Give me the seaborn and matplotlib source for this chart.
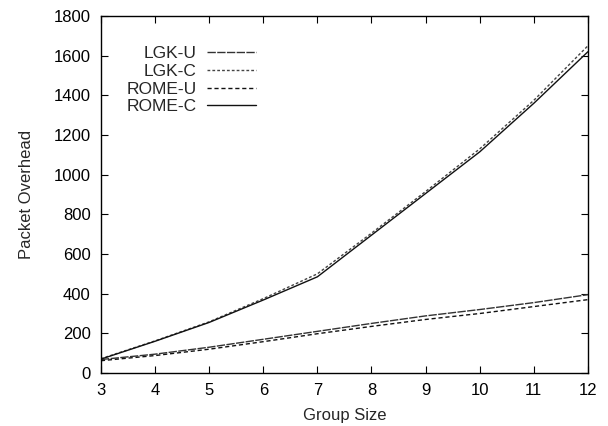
import matplotlib
matplotlib.use("Agg")
import matplotlib.pyplot as plt
import seaborn as sns
import pandas as pd

group_size = [3, 4, 5, 6, 7, 8, 9, 10, 11, 12]
lgk_u = [68, 95, 130, 170, 210, 250, 288, 320, 355, 395]
lgk_c = [72, 162, 258, 375, 500, 705, 915, 1130, 1375, 1650]
rome_u = [62, 88, 120, 158, 198, 235, 270, 300, 335, 370]
rome_c = [70, 160, 255, 368, 485, 695, 905, 1115, 1360, 1620]
series = ["LGK-U", "LGK-C", "ROME-U", "ROME-C"]

sns.set_theme(style="ticks")
plt.rcParams['font.family'] = ['Liberation Sans', 'DejaVu Sans']

rows = []
for name, vals in zip(series, [lgk_u, lgk_c, rome_u, rome_c]):
    for x, v in zip(group_size, vals):
        rows.append({"Group Size": x, "Packet Overhead": v, "Series": name})
df = pd.DataFrame(rows)

fig = plt.figure(figsize=(6.08, 4.26), dpi=100)
ax = fig.add_axes([0.166, 0.1244, 0.801, 0.838])

dashes = {"LGK-U": (6, 1), "LGK-C": (2, 1.5), "ROME-U": (3, 2), "ROME-C": ""}
palette = {"LGK-U": "#333333", "LGK-C": "#444444", "ROME-U": "#111111", "ROME-C": "#111111"}
sns.lineplot(data=df, x="Group Size", y="Packet Overhead", hue="Series", style="Series",
             hue_order=series, style_order=series, dashes=dashes, palette=palette,
             linewidth=1.0, ax=ax)

ax.set_xlim(3, 12)
ax.set_ylim(0, 1800)
ax.set_xticks(group_size)
ax.set_yticks(range(0, 1801, 200))
ax.tick_params(direction="in", top=True, right=True, labelsize=12, length=5, width=0.8,
               colors="black", pad=7.5)
for s in ax.spines.values():
    s.set_linewidth(1.0)
    s.set_color("black")
ax.set_xlabel("Group Size", fontsize=12, labelpad=7)
ax.set_ylabel("Packet Overhead", fontsize=12, labelpad=14)

leg = ax.legend(title=None, loc="upper right", bbox_to_anchor=(0.318, 0.916), frameon=False,
                markerfirst=False, fontsize=12.5, handlelength=2.8, labelspacing=0.15,
                handletextpad=0.6, borderaxespad=0.0, borderpad=0.0)
for t in leg.get_texts():
    t.set_ha("right")
leg._legend_box.align = "right"

fig.savefig("out.png", dpi=100)
